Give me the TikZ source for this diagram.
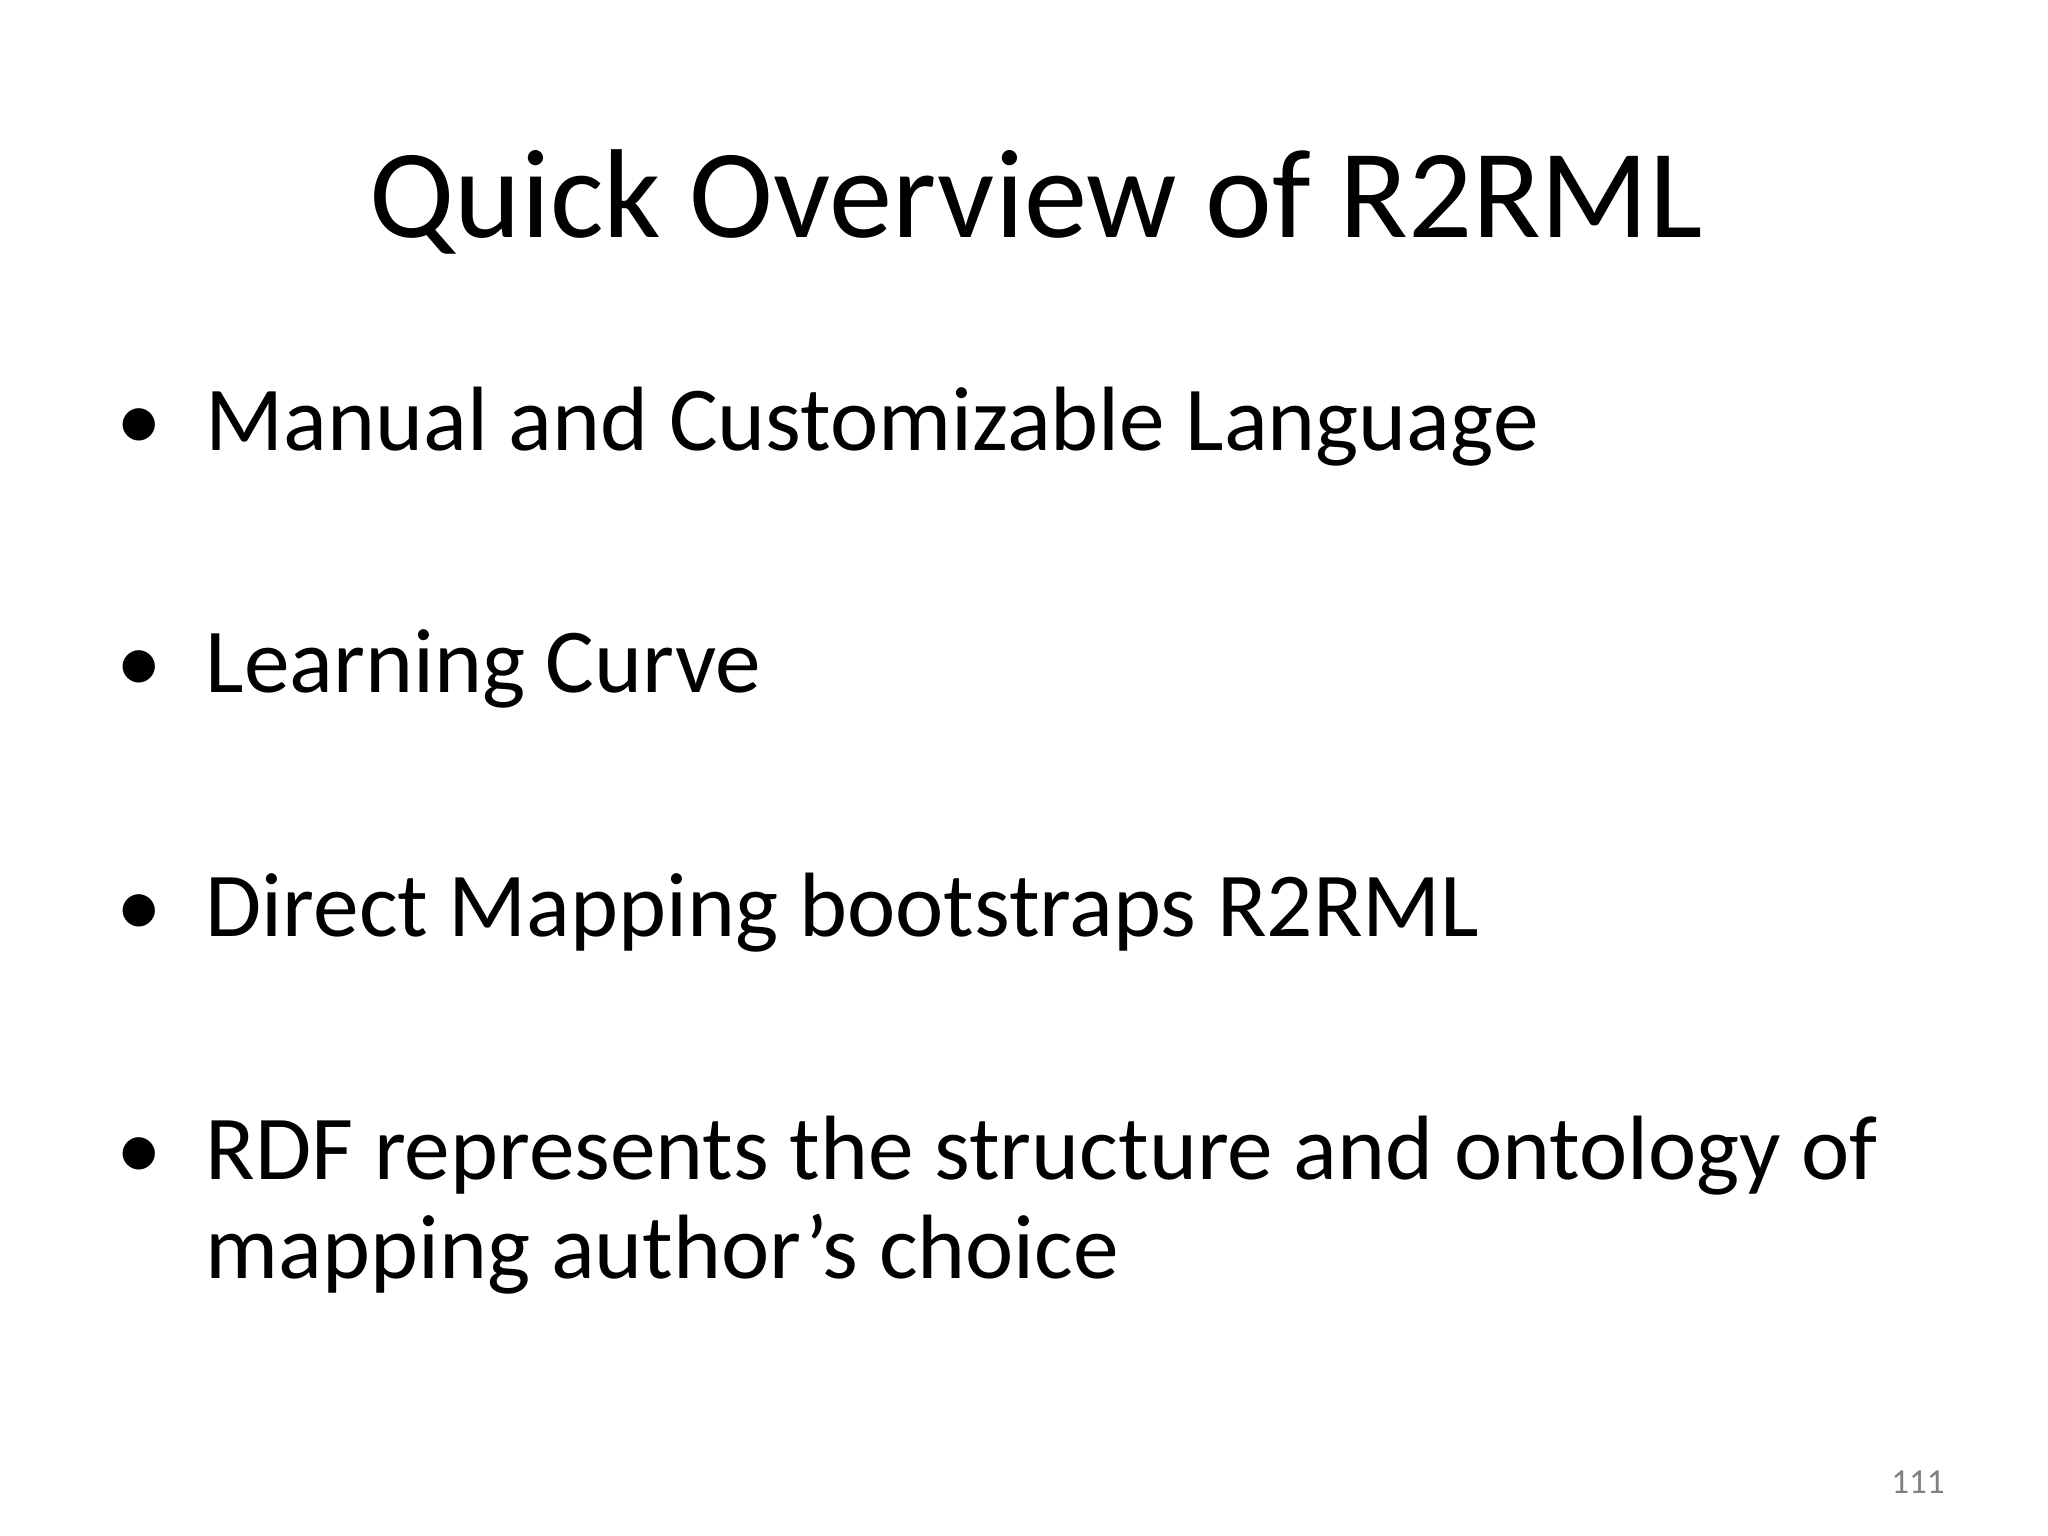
\documentclass[tikz,border=0pt]{standalone}
\usepackage{fontspec}
\setmainfont{Carlito}
\begin{document}
\begin{tikzpicture}
\tikzset{bul/.style={anchor=base west,inner sep=0pt,font=\fontsize{26pt}{31pt}\selectfont},
dot/.style={anchor=base,inner sep=0pt,font=\fontsize{26pt}{31pt}\selectfont}}
\useasboundingbox (0,0) rectangle (20.48,-15.36);
\node[anchor=base,inner sep=0pt,font=\fontsize{36pt}{43pt}\selectfont] (title) at (10.36,-2.38) {Quick Overview of R2RML};
\node[bul] (b1) at (2.05,-4.51) {Manual and Customizable Language};
\node[bul] (b2) at (2.05,-6.93) {Learning Curve};
\node[bul] (b3) at (2.05,-9.37) {Direct Mapping bootstraps R2RML};
\node[bul] (b4) at (2.05,-11.79) {RDF represents the structure and ontology of};
\node[bul] (b4b) at (2.05,-12.78) {mapping author’s choice};
\foreach \y/\n in {-4.51/d1,-6.93/d2,-9.37/d3,-11.79/d4}
  \node[dot] (\n) at (1.39,\y) {•};
\node[anchor=base,inner sep=0pt,text=gray,font=\fontsize{10pt}{12pt}\selectfont] (pg) at (19.18,-14.93) {111};
\end{tikzpicture}
\end{document}
